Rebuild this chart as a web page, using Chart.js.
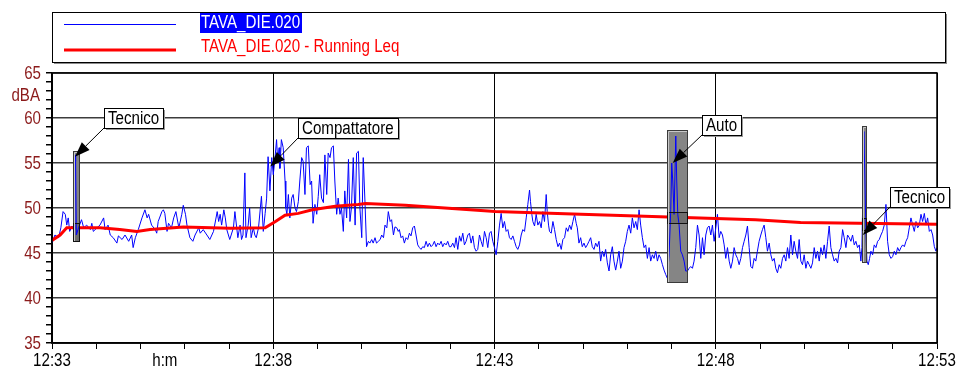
<!DOCTYPE html>
<html>
<head>
<meta charset="utf-8">
<script src="https://cdn.jsdelivr.net/npm/chart.js@4.4.1/dist/chart.umd.min.js"></script>
<style>
  html, body { margin: 0; padding: 0; background: #fff; overflow: hidden; }
</style>
</head>
<body>
<canvas id="leqChart" width="957" height="376"></canvas>
<script>
// ─── DATA (seconds after 12:33:00, dBA) ───
const blueTimes = [
  0,4,9,12,15,18,20,22,24,27,
  30,31,31.5,32,33,36,40,43,47,52,
  54,56,61,65,70,72,76,79,83,88,
  90,95,99,104,108,110,113,117,122,126,
  129,131,135,140,142,144,149,151,153,156,
  158,162,165,168,172,176,178,181,183,187,
  191,194,199,201,205,210,214,219,224,226,
  228,230,233,235,237,
  241,246,248,252,255,257,259,261.5,263,266,
  268,270,273,275,277,280,284,286.5,289,291,
  293,295.5,298,300,302,304.5,306,308,309,311,
  313.5,316,317,318.5,320.5,322.5,325,327,329.5,331.5,
  334,336,338.5,340.5,343,345,347.5,350,352,354,
  356.5,359,361,363,365.5,368,370,372.5,374.5,377,
  379,381.5,383.5,386,388,390.5,392.5,395,397,399.5,
  402,404,406,408.5,411,413,415.5,417.5,420,422,
  424.5,426.5,429,431,433.5,435.5,438,440,442.5,445,
  447,449.5,451.5,454,456,458.5,460.5,463,465,467.5,
  469.5,
  471,473.3,475.5,477.8,480,482.3,484.6,486.8,489.1,491.4,
  493.6,495.9,498.2,500.4,502.7,504.9,507.2,509.5,511.7,514,
  516.3,518.5,520.8,523,525.3,527.6,529.8,532.1,534.4,536.6,
  538.9,541.1,543.4,545.7,547.9,550.2,552.5,554.7,557,559.2,
  561.5,563.8,566,568.3,570.6,572.8,575.1,577.3,579.6,581.9,
  584.1,586.4,588.7,590.9,593.2,595.4,597.7,600,602.2,604.5,
  606.8,609,611.3,613.5,615.8,618.1,620.3,622.6,624.9,627.1,
  629.4,631.6,633.9,636.2,638.4,640.7,643,645.2,647.5,648.8,
  650.6,652,654.3,656.5,658.8,661.1,663.3,665.6,667.8,670.1,
  671.5,673.3,674.6,676.9,679.2,681.4,683.7,686,688.2,690.5,
  692.7,695,697.3,699.5,701.8,704,706.3,708.6,710.8,
  712.3,714.5,716.8,719,721.3,723.6,725.8,728.1,730.4,732.6,
  734.9,737.2,739.4,741.7,743.9,746.2,748.5,750.7,753,755.3,
  757.5,759.8,762,764.3,766.6,768.8,771.1,773.4,775.6,777.9,
  780.1,782.4,784.7,786.9,789.2,791.5,793.7,796,798.2,800.5,
  802.8,805,807.3,809.6,811.8,814.1,816.3,818.6,820.9,823.1,
  825.4,827.7,829.9,832.2,834.4,836.7,839,840.3,841.7,843.5,
  845.8,847.1,848.5,850.3,852.5,854.8,857.1,859.3,861.6,863.9,
  866.1,868.4,870.6,872.9,875.2,877.4,879.7,882,884.2,886.5,
  888.7,891,893.3,895.5,897.8,900.1,902.3,904.6,906.8,909.1,
  911.4,913.6,915.9,918.2,920.4,922.7,924.9,927.2,929.5,931.7,
  934,936.3,938.5,940.8,943,945.3,
  947.5,949.8,952,954.3,956.5,958.8,961.1,963.3,965.6,967.9,
  970.1,972.4,974.7,976.9,979.2,981.4,983.7,986,988.2,990.5,
  992.8,995,997.3,999.5,1001.8,1004.1,1006.3,1008.6,1010.9,1013.1,
  1015.4,1017.6,1019.9,1022.2,1024.4,1026.7,1029,1031.2,1033.5,1035.7,
  1038,1040.3,1042.5,1044.8,1047.1,1049.3,1051.6,1053.8,1056.1,1058.4,
  1060.6,1062.9,1065.2,1067.4,1069.7,1072,1074.2,1076.5,1078.7,1081,
  1083.3,1085.5,1087.8,1090,1092.3,1094.6,1096.8,1098.2,1099.5,1100.9,
  1102.3,1103.6,1105,1106.8,1108.6,1110.4,1112.7,1114.9,1117.2,1119.5,
  1121.7,1124,1126.2,1128.5,1130.8,1133,1135.3,1137.6,1139.8,1142.1,
  1144.3,1146.6,1148.9,1151.1,1153.4,1155.7,1157.9,1160.2,1162.4,1164.7,
  1167,1169.2,1171.5,1173.8,1176,1178.3,1180.5,1182.8,1185.1,1187.3,
  1189.6,1191.9,1194.1,1196.4,1198.6,1200
];
const blueLevels = [
  46.1,47.0,46.7,47.8,49.6,49.3,48.1,48.9,47.4,48.0,
  47.6,53.0,55.9,55.2,47.0,47.8,48.7,47.8,48.1,47.6,
  48.3,47.4,47.8,48.1,48.9,47.6,48.1,47.0,46.7,46.1,
  46.9,46.5,47.0,46.3,47.0,45.6,46.7,47.6,48.9,49.8,
  48.9,49.3,48.1,47.6,47.2,48.5,49.6,49.8,49.4,47.4,
  48.3,47.8,48.9,49.6,47.8,49.3,50.3,49.3,48.1,46.7,
  46.3,47.0,47.8,47.2,47.6,47.0,46.5,47.4,49.6,48.5,
  49.3,48.1,49.8,48.9,47.6,
  46.5,47.8,49.6,46.7,48.1,46.5,47.0,53.9,46.7,48.1,
  50.0,46.7,47.8,47.0,46.7,47.8,51.3,47.4,49.4,51.1,
  55.7,51.9,55.6,53.7,55.2,57.6,55.2,56.7,54.4,57.6,
  56.7,53.0,50.0,49.3,51.5,48.9,51.1,51.5,50.0,49.6,
  50.7,53.0,55.6,55.2,51.5,56.7,56.9,52.6,53.0,48.3,
  50.4,49.3,51.3,53.7,51.1,50.6,55.9,51.5,56.1,55.6,
  56.7,56.9,53.0,49.3,51.1,49.3,50.0,47.4,51.9,48.9,
  55.4,48.5,50.0,55.6,48.1,56.1,56.3,50.0,46.7,55.6,
  50.4,45.7,46.3,46.1,46.5,46.1,46.7,46.1,46.3,46.5,
  47.0,46.7,48.1,47.8,49.6,48.5,48.7,47.0,47.9,47.8,
  47.4,
  47.6,46.7,46.9,46.1,46.7,46.5,47.2,46.9,47.8,48.0,
  47.0,45.9,45.6,45.4,45.7,45.6,46.3,45.7,46.1,45.7,
  45.9,46.3,45.7,46.1,45.9,46.3,45.7,46.1,45.9,46.3,
  45.7,45.7,46.1,45.6,46.7,45.4,46.9,46.3,47.2,45.9,
  46.3,47.0,47.2,46.1,46.9,45.6,45.2,45.4,47.0,46.3,
  45.7,47.4,46.7,45.6,47.2,47.4,46.3,45.6,44.8,46.3,
  48.1,49.4,47.8,48.5,47.4,47.6,46.7,46.5,46.9,46.3,
  45.7,45.4,45.9,47.0,47.6,47.4,48.9,50.4,52.0,50.7,
  49.3,48.5,48.0,49.3,48.1,48.5,47.8,49.6,48.5,51.5,
  49.6,48.1,47.4,47.2,48.5,47.6,46.5,45.7,46.1,45.4,
  46.5,46.7,47.8,47.4,48.1,47.6,48.5,49.3,48.3,
  47.8,46.1,46.7,45.7,46.1,45.6,45.9,46.3,46.7,45.7,
  45.4,46.1,45.7,46.3,44.1,45.2,44.6,45.4,43.9,43.0,
  44.8,45.7,44.1,43.1,44.1,45.2,43.3,44.1,45.6,46.3,
  47.4,48.1,47.2,48.9,47.8,48.5,47.6,49.8,48.1,46.7,
  45.6,45.9,44.4,45.6,44.1,44.8,44.4,45.2,44.1,44.8,
  44.4,43.7,43.1,42.6,42.2,44.8,49.8,55.0,53.0,49.3,
  58.0,53.0,49.3,48.1,45.2,44.8,44.1,43.0,43.0,43.3,
  43.5,43.3,44.1,45.6,48.1,47.0,44.4,46.7,44.8,47.0,
  47.8,48.0,47.0,48.1,46.3,47.8,49.3,46.7,47.4,47.0,
  45.9,44.4,45.6,44.1,43.3,44.1,45.6,44.8,44.4,43.7,
  44.4,45.6,46.3,47.0,48.0,45.6,
  43.5,43.3,44.4,44.1,45.2,46.3,47.0,47.6,48.1,46.7,
  45.2,46.1,44.8,44.1,44.4,43.3,42.8,43.7,43.3,44.4,
  44.8,44.1,45.6,44.4,47.0,44.8,46.3,45.2,44.4,46.5,
  44.1,43.7,44.8,43.3,44.1,43.7,43.3,43.9,45.6,44.4,
  45.2,44.1,45.6,44.8,45.9,44.4,46.3,48.0,45.6,44.8,
  44.1,44.4,43.9,45.2,45.6,47.6,46.7,45.6,47.0,46.7,
  46.3,47.0,45.9,46.3,45.6,45.9,44.1,45.6,51.9,58.5,
  53.0,47.4,44.1,43.7,44.4,45.2,44.8,45.9,45.6,46.3,
  46.5,47.0,47.4,48.1,50.4,46.3,44.8,44.4,44.6,45.2,
  44.8,45.6,45.2,45.6,45.9,45.7,46.3,46.7,47.8,48.9,
  48.1,47.4,48.5,47.8,48.1,49.3,48.5,49.4,48.1,48.9,
  47.4,47.6,47.0,45.7,45.2,45.6
];

const leqTimes  = [0, 11, 20, 65, 92, 115, 133, 178, 242, 289, 303, 316, 334, 353, 384, 415, 425, 479, 601, 717, 954, 1015, 1200];
const leqLevels = [46.4, 47.0, 47.8, 47.8, 47.6, 47.4, 47.6, 47.9, 47.75, 47.8, 48.5, 49.2, 49.4, 49.8, 50.2, 50.4, 50.5, 50.3, 49.6, 49.3, 48.7, 48.4, 48.2];

const xTickLabels = ['12:33', '12:38', '12:43', '12:48', '12:53'];
const seriesNames = ['TAVA_DIE.020', 'TAVA_DIE.020 - Running Leq'];

// marked events: start/end (s), level range (dBA), Leq band of the event
const events = [
  { from: 28,   to: 36,     lo: 46.3, hi: 56.3, bandLo: 46.3, bandHi: 48.3 },
  { from: 834,  to: 861,    lo: 41.8, hi: 58.7, bandLo: 48.3, bandHi: 49.5 },
  { from: 1097.7, to: 1103.5, lo: 44.0, hi: 59.1, bandLo: 47.6, bandHi: 48.9 },
];
// callouts: box top-left (s, dBA) and arrow tip (s, dBA)
const callouts = [
  { text: 'Tecnico',      boxT: 70.6, boxL: 61.1, tipT: 31.2,   tipL: 55.7 },
  { text: 'Compattatore', boxT: 334,  boxL: 60.0, tipT: 296,    tipL: 54.6 },
  { text: 'Auto',         boxT: 881,  boxL: 60.3, tipT: 841.6,  tipL: 55.0 },
  { text: 'Tecnico',      boxT: 1136, boxL: 52.3, tipT: 1099.5, tipL: 47.0 },
];

// ─── STYLE ───
const FONT_FAMILY = "'Liberation Sans', Arial, sans-serif";
const NARROW = 0.84;            // horizontal squeeze, the original uses a narrow face
const AXIS_RED = '#8b1a1a';
const toPoints = (xs, ys) => xs.map((x, i) => ({ x, y: ys[i] }));

// text drawn with a horizontal squeeze; align: 'left' | 'center' | 'right'
function narrowText(ctx, text, x, y, align = 'left') {
  const w = ctx.measureText(text).width * NARROW;
  const x0 = align === 'center' ? x - w / 2 : align === 'right' ? x - w : x;
  ctx.save();
  ctx.textAlign = 'left';
  ctx.translate(x0, y);
  ctx.scale(NARROW, 1);
  ctx.fillText(text, 0, 0);
  ctx.restore();
  return w;
}

// events + callouts + legend, drawn on top of the datasets
const overlayPlugin = {
  id: 'overlay',
  afterDatasetsDraw(chart) {
    const { ctx, chartArea: a } = chart;
    const xs = chart.scales.x, ys = chart.scales.y;
    const blueMeta = chart.getDatasetMeta(1);

    events.forEach(ev => {
      const x0 = Math.round(xs.getPixelForValue(ev.from)), x1 = Math.round(xs.getPixelForValue(ev.to));
      const y0 = Math.round(ys.getPixelForValue(ev.hi)), y1 = Math.round(ys.getPixelForValue(ev.lo));
      const b0 = Math.round(ys.getPixelForValue(ev.bandHi)), b1 = Math.round(ys.getPixelForValue(ev.bandLo));
      ctx.save();
      ctx.fillStyle = '#858585';
      ctx.fillRect(x0, y0, x1 - x0, y1 - y0);
      ctx.fillStyle = '#6f6f6f';
      ctx.fillRect(x0, b0, x1 - x0, b1 - b0);
      // blue trace shows through the marked box
      ctx.beginPath();
      ctx.rect(x0, y0, x1 - x0, y1 - y0);
      ctx.clip();
      blueMeta.dataset.draw(ctx, a);
      ctx.restore();
      ctx.save();
      ctx.strokeStyle = '#3a3a3a';
      ctx.lineWidth = 1;
      ctx.strokeRect(x0 + 0.5, y0 + 0.5, x1 - x0, y1 - y0);
      ctx.strokeStyle = '#111';
      ctx.strokeRect(x0 + 0.5, b0 + 0.5, x1 - x0, b1 - b0);
      ctx.strokeStyle = '#c8c8c8';
      ctx.beginPath();
      ctx.moveTo(x0 + 1.5, y1); ctx.lineTo(x0 + 1.5, y0 + 1.5); ctx.lineTo(x1, y0 + 1.5);
      ctx.stroke();
      ctx.restore();
    });
  },
  afterDraw(chart) {
    const { ctx, chartArea: a } = chart;
    const xs = chart.scales.x, ys = chart.scales.y;

    // frame top/right
    ctx.save();
    ctx.strokeStyle = '#000';
    ctx.lineWidth = 1.5;
    ctx.strokeRect(a.left, a.top, a.right - a.left, a.bottom - a.top);
    ctx.restore();

    // tick labels, placed by the scales
    ctx.save();
    ctx.textBaseline = 'middle';
    ctx.font = `18px ${FONT_FAMILY}`;
    ctx.fillStyle = AXIS_RED;
    ys.ticks.forEach(t => {
      if (t.value % 5 === 0) narrowText(ctx, String(t.value), ys.right - 11, ys.getPixelForValue(t.value) + 1, 'right');
    });
    narrowText(ctx, 'dBA', ys.right - 12, ys.getPixelForValue(62.5) + 1, 'right');
    ctx.fillStyle = '#000';
    xs.ticks.forEach(t => {
      if (t.value % 300 === 0) narrowText(ctx, xTickLabels[t.value / 300], xs.getPixelForValue(t.value), xs.top + 18, 'center');
    });
    narrowText(ctx, 'h:m', xs.getPixelForValue(153), xs.top + 18, 'center');
    ctx.restore();

    // callouts
    ctx.save();
    ctx.font = `18px ${FONT_FAMILY}`;
    ctx.textBaseline = 'middle';
    callouts.forEach(c => {
      const bx = Math.round(xs.getPixelForValue(c.boxT)), by = Math.round(ys.getPixelForValue(c.boxL));
      const w = Math.round(ctx.measureText(c.text).width * NARROW) + 8, h = 20;
      const sx = bx, sy = by + h;
      const tx = xs.getPixelForValue(c.tipT), ty = ys.getPixelForValue(c.tipL);
      const ang = Math.atan2(ty - sy, tx - sx);
      const len = 15, half = 5.5;
      ctx.strokeStyle = '#000';
      ctx.lineWidth = 1;
      ctx.beginPath();
      ctx.moveTo(sx, sy);
      ctx.lineTo(tx - Math.cos(ang) * len, ty - Math.sin(ang) * len);
      ctx.stroke();
      ctx.fillStyle = '#000';
      ctx.beginPath();
      ctx.moveTo(tx, ty);
      ctx.lineTo(tx - Math.cos(ang) * len - Math.sin(ang) * half, ty - Math.sin(ang) * len + Math.cos(ang) * half);
      ctx.lineTo(tx - Math.cos(ang) * len + Math.sin(ang) * half, ty - Math.sin(ang) * len - Math.cos(ang) * half);
      ctx.closePath();
      ctx.fill();
      ctx.fillStyle = '#9a9a9a';
      ctx.fillRect(bx + 2, by + 2, w, h);
      ctx.fillStyle = '#fff';
      ctx.fillRect(bx, by, w, h);
      ctx.strokeRect(bx + 0.5, by + 0.5, w, h);
      ctx.fillStyle = '#000';
      narrowText(ctx, c.text, bx + 4, by + h / 2 + 1);
    });
    ctx.restore();

    // legend box
    ctx.save();
    const L = a.left, R = 945, T = 12, B = 62;
    ctx.fillStyle = '#8a8a8a';
    ctx.fillRect(L + 2, B, R - L, 2);
    ctx.fillRect(R, T + 2, 2, B - T);
    ctx.strokeStyle = '#000';
    ctx.lineWidth = 1;
    ctx.strokeRect(L + 0.5, T + 0.5, R - L, B - T);
    ctx.font = `18px ${FONT_FAMILY}`;
    ctx.textBaseline = 'middle';
    // series 1
    ctx.strokeStyle = '#0000ff';
    ctx.lineWidth = 1;
    ctx.beginPath(); ctx.moveTo(64, 24.5); ctx.lineTo(176, 24.5); ctx.stroke();
    const w1 = ctx.measureText(seriesNames[0]).width * NARROW;
    ctx.fillStyle = '#0000ff';
    ctx.fillRect(200, 13, Math.ceil(w1) + 2, 20);
    ctx.fillStyle = '#fff';
    narrowText(ctx, seriesNames[0], 201, 23.5);
    // series 2
    ctx.strokeStyle = '#ff0000';
    ctx.lineWidth = 3;
    ctx.beginPath(); ctx.moveTo(64, 50); ctx.lineTo(176, 50); ctx.stroke();
    ctx.fillStyle = '#ff0000';
    narrowText(ctx, seriesNames[1], 201, 47.5);
    ctx.restore();
  },
};

const chart = new Chart(document.getElementById('leqChart'), {
  type: 'line',
  data: {
    datasets: [
      { label: seriesNames[1], data: toPoints(leqTimes, leqLevels), borderColor: '#ff0000', borderWidth: 3,
        pointRadius: 0, tension: 0, order: 0 },
      { label: seriesNames[0], data: toPoints(blueTimes, blueLevels), borderColor: '#0000ff', borderWidth: 1,
        pointRadius: 0, tension: 0, order: 1 },
    ],
  },
  options: {
    responsive: false,
    animation: false,
    devicePixelRatio: 1,
    layout: { padding: { top: 73, right: 20, left: 0, bottom: 0 } },
    plugins: { legend: { display: false }, tooltip: { enabled: false } },
    scales: {
      x: {
        type: 'linear', min: 0, max: 1200,
        afterFit: s => { s.height = 33; },
        border: { color: '#000', width: 1.5 },
        grid: {
          color: c => (c.tick && c.tick.value % 300 === 0) ? '#000' : 'rgba(0,0,0,0)',
          lineWidth: 1, tickColor: '#000', tickLength: 6,
        },
        ticks: { stepSize: 60, autoSkip: false, display: false },
      },
      y: {
        min: 35, max: 65,
        afterFit: s => { s.width = 52; },
        border: { color: '#000', width: 1.5 },
        grid: {
          color: c => (c.tick && c.tick.value % 5 === 0) ? '#3c3c3c' : 'rgba(0,0,0,0)',
          lineWidth: 1.5, tickColor: '#000', tickLength: 6,
        },
        ticks: { stepSize: 1, autoSkip: false, display: false },
      },
    },
  },
  plugins: [overlayPlugin],
});
</script>
</body>
</html>
